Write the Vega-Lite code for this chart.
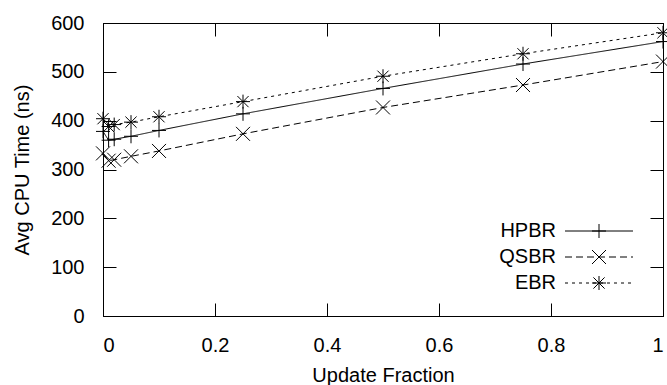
{
  "$schema": "https://vega.github.io/schema/vega-lite/v6.json",
  "width": 560,
  "height": 293,
  "autosize": {"type": "none"},
  "padding": {"left": 103, "top": 23, "right": 4, "bottom": 69},
  "background": "white",
  "data": {
    "values": [
      {"fraction": 0, "series": "HPBR", "time": 378},
      {"fraction": 0.01, "series": "HPBR", "time": 360},
      {"fraction": 0.02, "series": "HPBR", "time": 362},
      {"fraction": 0.05, "series": "HPBR", "time": 368},
      {"fraction": 0.1, "series": "HPBR", "time": 380},
      {"fraction": 0.25, "series": "HPBR", "time": 414},
      {"fraction": 0.5, "series": "HPBR", "time": 466},
      {"fraction": 0.75, "series": "HPBR", "time": 516},
      {"fraction": 1, "series": "HPBR", "time": 562},
      {"fraction": 0, "series": "QSBR", "time": 333},
      {"fraction": 0.01, "series": "QSBR", "time": 318},
      {"fraction": 0.02, "series": "QSBR", "time": 320},
      {"fraction": 0.05, "series": "QSBR", "time": 327},
      {"fraction": 0.1, "series": "QSBR", "time": 338},
      {"fraction": 0.25, "series": "QSBR", "time": 373},
      {"fraction": 0.5, "series": "QSBR", "time": 427},
      {"fraction": 0.75, "series": "QSBR", "time": 473},
      {"fraction": 1, "series": "QSBR", "time": 521},
      {"fraction": 0, "series": "EBR", "time": 404},
      {"fraction": 0.01, "series": "EBR", "time": 388},
      {"fraction": 0.02, "series": "EBR", "time": 392},
      {"fraction": 0.05, "series": "EBR", "time": 397},
      {"fraction": 0.1, "series": "EBR", "time": 408},
      {"fraction": 0.25, "series": "EBR", "time": 439},
      {"fraction": 0.5, "series": "EBR", "time": 491},
      {"fraction": 0.75, "series": "EBR", "time": 537},
      {"fraction": 1, "series": "EBR", "time": 580}
    ]
  },
  "layer": [
    {
      "mark": {"type": "line", "color": "black", "strokeWidth": 1},
      "encoding": {
        "x": {
          "field": "fraction", "type": "quantitative",
          "scale": {"domain": [0, 1], "nice": false},
          "axis": {"orient": "bottom", "values": [0, 0.2, 0.4, 0.6, 0.8, 1], "format": "~g", "title": "Update Fraction", "tickSize": -13, "labelPadding": 32, "titlePadding": 10}
        },
        "y": {
          "field": "time", "type": "quantitative",
          "scale": {"domain": [0, 600], "nice": false},
          "axis": {"orient": "left", "values": [0, 100, 200, 300, 400, 500, 600], "title": "Avg CPU Time (ns)", "tickSize": -13, "labelPadding": 32, "titlePadding": 18}
        },
        "strokeDash": {
          "field": "series", "type": "nominal",
          "scale": {"domain": ["HPBR", "QSBR", "EBR"], "range": [[1, 0], [7, 4], [3, 4]]},
          "legend": {"orient": "none", "legendX": 486, "legendY": 198, "title": null, "symbolType": "M-4.857,0H4.857", "symbolSize": 196, "symbolStrokeWidth": 1, "symbolStrokeColor": "black", "labelAlign": "right", "labelOffset": -53, "rowPadding": 6, "padding": 0}
        }
      }
    },
    {
      "mark": {"type": "point", "filled": false, "color": "black", "strokeWidth": 1, "size": 196, "opacity": 1},
      "encoding": {
        "x": {
          "field": "fraction", "type": "quantitative",
          "axis": {"orient": "top", "values": [0, 0.2, 0.4, 0.6, 0.8, 1], "labels": false, "title": null, "tickSize": -13}
        },
        "y": {
          "field": "time", "type": "quantitative",
          "axis": {"orient": "right", "values": [0, 100, 200, 300, 400, 500, 600], "labels": false, "title": null, "tickSize": -13}
        },
        "shape": {
          "field": "series", "type": "nominal", "sort": ["HPBR", "QSBR", "EBR"],
          "scale": {"range": ["M-1,0H1M0,-1V1", "M-1,-1L1,1M-1,1L1,-1", "M-1,0H1M0,-1V1M-0.8,-0.8L0.8,0.8M-0.8,0.8L0.8,-0.8"]},
          "legend": {"orient": "none", "legendX": 486, "legendY": 198, "title": null, "symbolSize": 196, "symbolStrokeWidth": 1, "symbolStrokeColor": "black", "symbolFillColor": "transparent", "labelAlign": "right", "labelOffset": -53, "labelOpacity": 0, "rowPadding": 6, "padding": 0}
        }
      }
    }
  ],
  "resolve": {"axis": {"x": "independent", "y": "independent"}},
  "config": {
    "view": {"stroke": "black", "strokeWidth": 1},
    "axis": {"grid": false, "domainColor": "black", "domainWidth": 1, "tickColor": "black", "tickWidth": 1, "labelFont": "Liberation Sans", "labelFontSize": 20, "labelColor": "black", "titleFont": "Liberation Sans", "titleFontSize": 20, "titleFontWeight": "normal", "titleColor": "black"},
    "legend": {"labelFont": "Liberation Sans", "labelFontSize": 20, "labelColor": "black"}
  }
}
